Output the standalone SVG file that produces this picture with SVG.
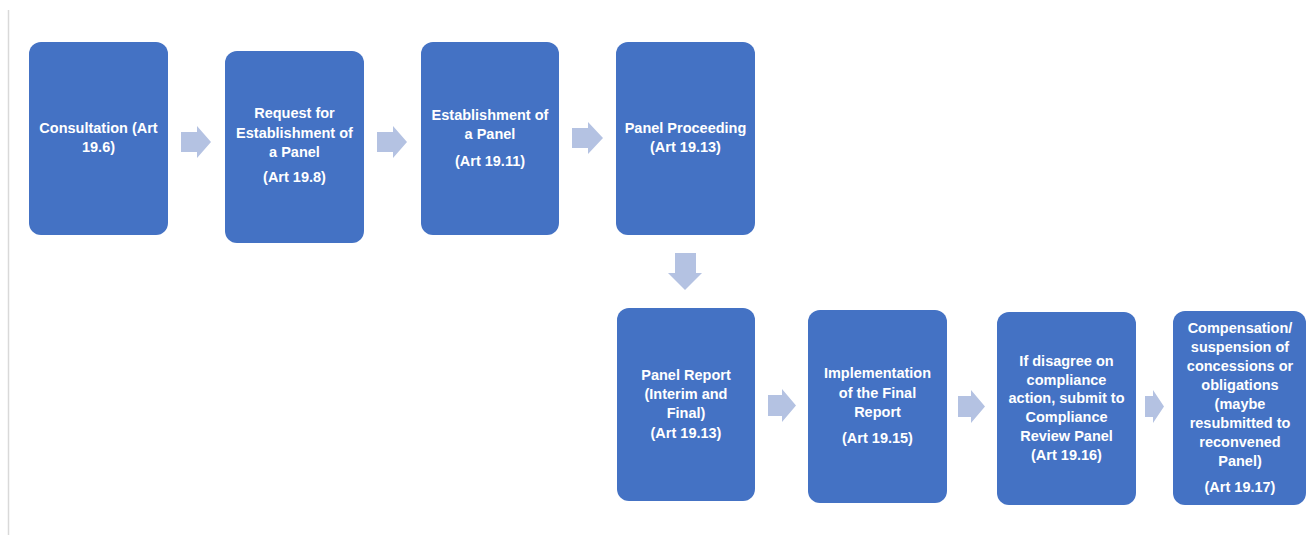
<svg xmlns="http://www.w3.org/2000/svg" width="1306" height="535" viewBox="0 0 1306 535">
<style>
.box{fill:#4472C4}
.arr{fill:#B4C2E2}
.t{font-family:"Liberation Sans",Arial,sans-serif;font-weight:bold;font-size:14.5px;fill:#ffffff;text-anchor:middle}
</style>
<rect x="0" y="0" width="1306" height="535" fill="#ffffff"/>
<line x1="8.5" y1="10" x2="8.5" y2="535" stroke="#d9d9d9" stroke-width="1.5"/>
<g id="connectors">
<polygon class="arr" points="181,132 197,132 197,126 211,142 197,158 197,152 181,152"/>
<polygon class="arr" points="377,132 393,132 393,126 407,142 393,158 393,152 377,152"/>
<polygon class="arr" points="572,128 588,128 588,122 603,138 588,154 588,148 572,148"/>
<polygon class="arr" points="675,253 696,253 696,273 702,273 685,290 668,273 675,273"/>
<polygon class="arr" points="768,395 782,395 782,389 796,405.5 782,422 782,416 768,416"/>
<polygon class="arr" points="958,396 971,396 971,390 985,406.5 971,423 971,417 958,417"/>
<polygon class="arr" points="1145,396 1153,396 1153,390 1164,406.5 1153,423 1153,417 1145,417"/>
</g>
<g id="n1">
<rect class="box" x="29" y="42" width="139" height="193" rx="12"/>
<text class="t" x="98.5" y="133">Consultation (Art</text>
<text class="t" x="98.5" y="152">19.6)</text>
</g>
<g id="n2">
<rect class="box" x="225" y="51" width="139" height="192" rx="12"/>
<text class="t" x="294.5" y="118">Request for</text>
<text class="t" x="294.5" y="138">Establishment of</text>
<text class="t" x="294.5" y="157">a Panel</text>
<text class="t" x="294.5" y="182">(Art 19.8)</text>
</g>
<g id="n3">
<rect class="box" x="421" y="42" width="138" height="193" rx="12"/>
<text class="t" x="490" y="120">Establishment of</text>
<text class="t" x="490" y="139">a Panel</text>
<text class="t" x="490" y="166">(Art 19.11)</text>
</g>
<g id="n4">
<rect class="box" x="616" y="42" width="139" height="193" rx="12"/>
<text class="t" x="685.5" y="133">Panel Proceeding</text>
<text class="t" x="685.5" y="152">(Art 19.13)</text>
</g>
<g id="n5">
<rect class="box" x="617" y="308" width="138" height="193" rx="12"/>
<text class="t" x="686" y="380">Panel Report</text>
<text class="t" x="686" y="399">(Interim and</text>
<text class="t" x="686" y="418">Final)</text>
<text class="t" x="686" y="438">(Art 19.13)</text>
</g>
<g id="n6">
<rect class="box" x="808" y="310" width="139" height="193" rx="12"/>
<text class="t" x="877.5" y="378">Implementation</text>
<text class="t" x="877.5" y="398">of the Final</text>
<text class="t" x="877.5" y="417">Report</text>
<text class="t" x="877.5" y="443">(Art 19.15)</text>
</g>
<g id="n7">
<rect class="box" x="997" y="312" width="139" height="193" rx="12"/>
<text class="t" x="1066.5" y="366">If disagree on</text>
<text class="t" x="1066.5" y="385">compliance</text>
<text class="t" x="1066.5" y="403">action, submit to</text>
<text class="t" x="1066.5" y="422">Compliance</text>
<text class="t" x="1066.5" y="441">Review Panel</text>
<text class="t" x="1066.5" y="460">(Art 19.16)</text>
</g>
<g id="n8">
<rect class="box" x="1173" y="311" width="133" height="194" rx="12"/>
<text class="t" x="1240" y="333">Compensation/</text>
<text class="t" x="1240" y="352">suspension of</text>
<text class="t" x="1240" y="371">concessions or</text>
<text class="t" x="1240" y="390">obligations</text>
<text class="t" x="1240" y="409">(maybe</text>
<text class="t" x="1240" y="428">resubmitted to</text>
<text class="t" x="1240" y="447">reconvened</text>
<text class="t" x="1240" y="466">Panel)</text>
<text class="t" x="1240" y="492">(Art 19.17)</text>
</g>
</svg>
